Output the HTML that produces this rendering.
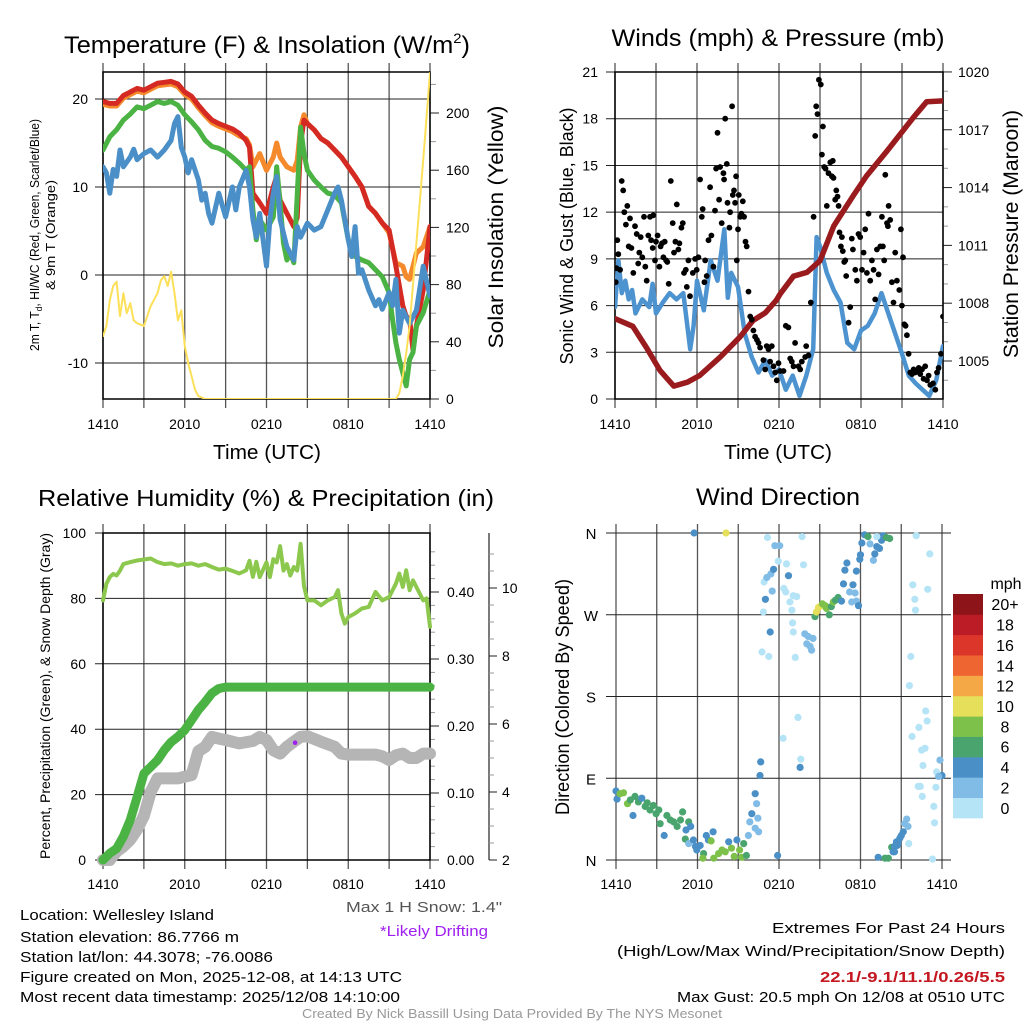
<!DOCTYPE html>
<html><head><meta charset="utf-8"><title>Mesonet Meteogram</title>
<style>
html,body{margin:0;padding:0;background:#fff;}
svg{display:block;font-family:"Liberation Sans",Arial,sans-serif;}
</style></head>
<body>
<svg id="chart" width="1024" height="1024" viewBox="0 0 1024 1024" xmlns="http://www.w3.org/2000/svg">
<rect x="0" y="0" width="1024" height="1024" fill="#fff"/>
<defs>
<clipPath id="c1"><rect x="103" y="72" width="327" height="327"/></clipPath>
<clipPath id="c2"><rect x="615" y="72" width="328" height="327"/></clipPath>
<clipPath id="c3"><rect x="96" y="520" width="342" height="350"/></clipPath>
<clipPath id="c4"><rect x="606" y="525" width="345" height="342"/></clipPath>
</defs>
<!-- titles -->
<text x="267" y="53" font-size="24" text-anchor="middle" textLength="406" lengthAdjust="spacingAndGlyphs">Temperature (F) &amp; Insolation (W/m<tspan font-size="14" dy="-10">2</tspan><tspan dy="10">)</tspan></text>
<text x="778" y="46" font-size="24" text-anchor="middle" textLength="333" lengthAdjust="spacingAndGlyphs">Winds (mph) &amp; Pressure (mb)</text>
<text x="266" y="506" font-size="23" text-anchor="middle" textLength="456" lengthAdjust="spacingAndGlyphs">Relative Humidity (%) &amp; Precipitation (in)</text>
<text x="778" y="505" font-size="24" text-anchor="middle" textLength="164" lengthAdjust="spacingAndGlyphs">Wind Direction</text>
<!-- axis titles -->
<text x="267" y="459" font-size="20" text-anchor="middle" textLength="108" lengthAdjust="spacingAndGlyphs">Time (UTC)</text>
<text x="778" y="459" font-size="20" text-anchor="middle" textLength="108" lengthAdjust="spacingAndGlyphs">Time (UTC)</text>
<text transform="translate(39,235) rotate(-90)" font-size="13" text-anchor="middle" textLength="232" lengthAdjust="spacingAndGlyphs">2m T, T<tspan font-size="9" dy="3">d</tspan><tspan dy="-3">, HI/WC (Red, Green, Scarlet/Blue)</tspan></text>
<text transform="translate(55,235) rotate(-90)" font-size="13" text-anchor="middle" textLength="110" lengthAdjust="spacingAndGlyphs">&amp; 9m T (Orange)</text>
<text transform="translate(503,227) rotate(-90)" font-size="21" text-anchor="middle" textLength="243" lengthAdjust="spacingAndGlyphs">Solar Insolation (Yellow)</text>
<text transform="translate(573,236) rotate(-90)" font-size="18" text-anchor="middle" textLength="257" lengthAdjust="spacingAndGlyphs">Sonic Wind &amp; Gust (Blue, Black)</text>
<text transform="translate(1018,234) rotate(-90)" font-size="21" text-anchor="middle" textLength="248" lengthAdjust="spacingAndGlyphs">Station Pressure (Maroon)</text>
<text transform="translate(50,696) rotate(-90)" font-size="14" text-anchor="middle" textLength="326" lengthAdjust="spacingAndGlyphs">Percent, Precipitation (Green), &amp; Snow Depth (Gray)</text>
<text transform="translate(569,697) rotate(-90)" font-size="19" text-anchor="middle" textLength="236" lengthAdjust="spacingAndGlyphs">Direction (Colored By Speed)</text>
<!-- info texts -->
<text x="424" y="912" font-size="15" fill="#555" text-anchor="middle" textLength="156" lengthAdjust="spacingAndGlyphs">Max 1 H Snow: 1.4"</text>
<text x="434" y="936" font-size="15" fill="#a020f0" text-anchor="middle" textLength="108" lengthAdjust="spacingAndGlyphs">*Likely Drifting</text>
<g font-size="15">
<text x="20" y="920" textLength="194" lengthAdjust="spacingAndGlyphs">Location: Wellesley Island</text>
<text x="20" y="942" textLength="219" lengthAdjust="spacingAndGlyphs">Station elevation: 86.7766 m</text>
<text x="20" y="962" textLength="253" lengthAdjust="spacingAndGlyphs">Station lat/lon: 44.3078; -76.0086</text>
<text x="20" y="982" textLength="382" lengthAdjust="spacingAndGlyphs">Figure created on Mon, 2025-12-08, at 14:13 UTC</text>
<text x="20" y="1002" textLength="380" lengthAdjust="spacingAndGlyphs">Most recent data timestamp: 2025/12/08 14:10:00</text>
</g>
<g font-size="15" text-anchor="end">
<text x="1005" y="933" textLength="233" lengthAdjust="spacingAndGlyphs">Extremes For Past 24 Hours</text>
<text x="1005" y="956" textLength="388" lengthAdjust="spacingAndGlyphs">(High/Low/Max Wind/Precipitation/Snow Depth)</text>
<text x="1005" y="982" font-weight="bold" fill="#c4171f" textLength="185" lengthAdjust="spacingAndGlyphs">22.1/-9.1/11.1/0.26/5.5</text>
<text x="1005" y="1002" textLength="328" lengthAdjust="spacingAndGlyphs">Max Gust: 20.5 mph On 12/08 at 0510 UTC</text>
</g>
<text x="512" y="1018" font-size="13" fill="#999" text-anchor="middle" textLength="420" lengthAdjust="spacingAndGlyphs">Created By Nick Bassill Using Data Provided By The NYS Mesonet</text>
<text x="1006" y="589" font-size="16" text-anchor="middle">mph</text>
</svg>
<script>
// ---------- data ----------
const timeTickHours=[0,6,12,18,24];
const timeTickLabels=['1410','2010','0210','0810','1410'];
const gridHours=[0,3,6,9,12,15,18,21,24];
const p1TempTicks=[-10,0,10,20];
const p1SolarTicks=[0,40,80,120,160,200];
const p2WindTicks=[0,3,6,9,12,15,18,21];
const p2PresTicks=[1005,1008,1011,1014,1017,1020];
const p3PctTicks=[0,20,40,60,80,100];
const p3PrecTicks=[0,0.1,0.2,0.3,0.4];
const p3SnowTicks=[2,4,6,8,10];
const dirTicks=[0,90,180,270,360];
const dirTickLabels=['N','E','S','W','N'];
const speedBinLabels=['0','2','4','6','8','10','12','14','16','18','20+'];

const tempT=[0,0.5,1,1.5,2,2.5,3,3.5,4,4.5,5,5.5,6,6.5,7,7.5,8,8.5,9,9.5,10,10.5,10.75,11,11.5,12,12.5,12.75,13,13.5,14,14.25,14.5,14.75,15,15.5,16,16.5,17,17.5,18,18.5,19,19.5,20,20.5,21,21.5,22,22.25,22.5,22.75,23,23.5,24];
const tempV=[19.7,19.5,19.5,20.4,20.8,21.2,21,21.4,21.8,21.9,22,21.7,20.8,20.3,19.3,18.4,17.6,17.2,16.9,16.6,16.1,15.3,14.5,9.3,8.2,7,10,11.2,8.5,7,5.5,6.5,15,17.6,17.2,16.5,15.5,15,14.2,13.4,12.3,11.2,10,7.8,7,5.9,5.1,1,-3.5,-4.7,-5,-8.5,-5.8,-1.7,5.5];
const temp9mV=[19.4,19.2,19.2,20.1,20.5,20.9,20.7,21.1,21.5,21.6,21.7,21.4,20.5,20,19,18.1,17.3,16.9,16.6,16.3,15.8,15.5,14.8,12.3,13.8,11.9,13.4,15,13.4,12.3,11.9,13,16.8,18.2,17.2,16.5,15.5,15,14.2,13.4,12.3,11.2,10,7.8,7,5.9,4.8,1.4,1,-0.2,-0.5,1,2.5,3.2,5.5];
const dewT=[0,0.5,1,1.5,2,2.5,3,3.5,4,4.5,5,5.5,6,6.5,7,7.5,8,8.5,9,9.5,10,10.5,10.75,11,11.25,11.5,12,12.5,12.75,13,13.25,13.5,13.75,14,14.25,14.5,14.75,15,15.5,16,16.5,17,17.5,18,18.5,19,19.5,20,20.5,21,21.25,21.5,21.75,22,22.25,22.5,22.75,23,23.5,24];
const dewV=[14.2,15.7,16.5,17.6,18.3,19.1,18.9,19.3,19.7,19.5,19.7,19.3,18.2,17.4,16.5,15.3,14.6,14.4,14,13.4,12.7,11.9,12.3,7.4,4,6.3,5.1,6.6,12.3,8.2,3.6,1.7,2.5,1.4,9,16.8,13.8,11.9,10.8,10,9.3,9.1,8.2,4,2.1,1.7,1.4,0.6,-0.2,-2,-5,-7.7,-9.6,-11.1,-12.6,-9.6,-8.8,-5.8,-4.3,-1.7];
const chillT=[0,0.25,0.5,0.75,1,1.25,1.5,2,2.25,2.5,3,3.5,4,4.5,5,5.25,5.5,5.75,6,6.25,6.5,7,7.25,7.5,7.75,8,8.5,9,9.5,9.75,10,10.5,10.75,11,11.25,11.5,12,12.25,12.5,12.75,13,13.5,14,14.25,14.5,15,15.5,16,16.5,17,17.25,17.5,18,18.25,18.5,18.75,19,19.5,20,20.25,20.5,21,21.25,21.5,21.75,22,22.5,23,23.5,24];
const chillV=[12.3,11.6,9.3,12,11.2,14.2,12.3,13.4,14.3,13.1,13.8,14.2,13.4,14.2,15.3,17.2,18,14.5,13.4,11.6,13.1,10.8,8.5,9.3,7,5.9,9.3,6.6,10,7.4,10,11.9,10,6.3,4.3,7,1,6.3,9.3,11.2,6.3,3.2,1.7,5.5,4.3,5.9,5.1,5.5,7.4,9.3,10,8.5,4,2.1,5.5,0.2,0.6,-1.7,-3.5,-2.8,-3.9,-2,-3.5,-0.5,-6.6,-4,-5.5,-4,1,-2.4];
const solarT=[0,0.25,0.5,0.75,1,1.25,1.5,1.75,2,2.25,2.5,3,3.5,4,4.25,4.5,4.75,5,5.25,5.5,5.75,6,6.25,6.5,6.75,7,7.5,21.5,21.75,22,22.25,22.5,23,23.5,24];
const solarV=[44,51,69,79,82,58,74,60,67,55,53,51,65,74,83,86,79,89,74,55,62,37,25,16,6.5,2,0,0,4,16,32,51,109,167,228];

const presT=[0,1.3,2.3,3.3,4.3,5.3,6.2,7.7,9.15,10.1,11,11.8,12.1,13.06,14.04,15,16,17.45,18.4,19.9,21.85,22.8,24];
const presV=[1007.2,1006.8,1005.7,1004.5,1003.7,1003.9,1004.25,1005.2,1006.25,1007.1,1007.5,1008.15,1008.5,1009.4,1009.6,1010.2,1012.0,1013.6,1014.6,1015.9,1017.65,1018.45,1018.5];
const windT=[0,0.25,0.5,0.75,1,1.25,1.5,2,2.5,2.75,3,3.5,4,4.5,5,5.5,5.75,6,6.5,7,7.5,8,8.25,8.5,9,9.5,10,10.5,11,11.5,12,12.5,13,13.5,14,14.5,14.75,15,15.5,16,16.5,17,17.5,18,18.5,19,19.5,20,20.5,21,21.5,22,22.5,23,23.5,24];
const windV=[5.9,8.9,6.8,7.6,6.4,7,5.5,6.4,5.9,7.4,5.5,6.2,6.8,6.4,6.8,3.2,4.7,7.6,5.7,8.9,7.6,10.9,6.5,8.1,7.2,4.2,2.7,1.7,2.5,1.5,1.9,0.6,1.5,0.2,1.5,3.2,10.4,9.8,8.1,7,6.2,3.6,3.2,4.4,4.7,5.5,6.8,5.5,4.2,2.9,1.5,1,0.6,0.2,1.2,3.4];
const gustT=[0.05,0.1,0.17,0.24,0.37,0.49,0.6,0.68,0.8,0.9,1,1.1,1.2,1.34,1.46,1.59,1.7,1.78,1.88,2,2.12,2.22,2.32,2.44,2.56,2.64,2.76,2.8,2.93,3,3.12,3.25,3.34,3.44,3.54,3.64,3.74,3.83,3.93,4.08,4.22,4.32,4.42,4.52,4.64,4.71,4.86,4.96,5.05,5.18,5.25,5.37,5.49,5.69,5.86,5.98,6.1,6.23,6.35,6.42,6.54,6.6,6.71,6.84,6.96,7.05,7.2,7.32,7.4,7.5,7.62,7.69,7.81,7.93,7.98,8.06,8.18,8.23,8.37,8.42,8.57,8.62,8.71,8.79,8.86,8.91,9,9.06,9.16,9.25,9.35,9.45,9.55,9.64,9.77,9.89,10.01,10.13,10.25,10.38,10.5,10.62,10.86,10.99,11.1,11.23,11.35,11.47,11.6,11.72,11.84,11.96,12.08,12.33,12.5,12.69,12.82,12.94,13.06,13.18,13.43,13.55,13.67,13.92,13.99,14.16,14.33,14.53,14.65,14.72,14.82,14.92,15.06,15.14,15.21,15.31,15.4,15.5,15.62,15.75,15.87,15.94,15.99,16.11,16.19,16.28,16.36,16.43,16.53,16.6,16.67,16.77,16.85,16.92,17.09,17.21,17.33,17.41,17.58,17.7,17.82,17.94,18.07,18.19,18.31,18.43,18.55,18.67,18.8,18.92,19.04,19.16,19.29,19.41,19.53,19.6,19.7,19.78,19.9,19.97,20.02,20.14,20.26,20.38,20.5,20.63,20.8,20.92,20.99,21.07,21.17,21.26,21.36,21.48,21.6,21.73,21.85,21.97,22.1,22.22,22.34,22.46,22.58,22.7,22.83,22.95,23.07,23.27,23.44,23.56,23.68,23.85,24];
const gustV=[7.5,8.4,10.2,9.3,8.3,14,13.4,12,11.2,12.4,9.8,11.6,9.7,8.1,11.1,10.6,8.7,9.4,10.4,9.1,11.7,8.5,7.6,10.5,11.7,10.2,9.7,11.8,8.9,10.1,10.5,8.5,9.8,10,9.1,10.1,8.9,8.8,7.4,14,11.3,9.4,10.1,12.5,9.6,10,11,11.3,8.1,8.3,7.2,8.9,6.6,8.1,9,8.3,9.1,14.1,11.7,12.2,7.5,8.9,7.9,10.2,13.6,10.5,8.5,12.1,14.8,17.1,12.8,14.9,11.3,14.5,14.1,18,15.1,12.6,11,12,18.8,13.1,13.4,12.6,14.3,8.9,10.9,13.1,11.7,11.9,12.7,11.7,10.1,9.8,6.9,5.3,5.1,4.4,4,3.8,3.6,3.3,2.5,1.9,3.4,3.2,2.4,3.4,2.1,1.7,1.2,2.3,1.8,1.8,4.7,4.6,2.6,2.4,2.1,3.6,2.1,1.9,2.4,2.7,3.4,2.8,6.2,11.7,16.9,18.8,18.3,20.5,20.2,15.7,17.5,14.9,14.8,12.4,14.5,15.2,14.3,15.3,14.2,12.8,13.4,13,12.4,10.7,9.8,10.4,9.5,8.8,8.9,7.9,4.9,5.9,10.3,9.6,8.3,7.6,10.6,10.4,8.3,9.4,10.9,8.1,11.9,7.6,8.9,8.3,6.4,9.6,8,9.8,11.7,9.8,8.9,14.4,11.3,11.1,12.4,11.5,7.5,6.2,9.4,7.6,7,10.9,6,9.1,4.8,4.7,4.1,2.9,1.7,1.6,1.9,1.7,1.8,2,1.6,1.9,1.3,2.1,1.2,1.5,0.9,1,0.6,1.7,2,2.9,5.3];

const rhT=[0,0.25,0.5,0.75,1,1.25,1.5,2,2.5,3,3.5,4,4.5,5,5.5,6,6.5,7,7.5,8,8.5,9,9.5,10,10.5,10.75,11,11.25,11.5,12,12.25,12.5,12.75,13,13.25,13.5,13.75,14,14.25,14.5,14.75,15,15.5,16,16.5,17,17.25,17.5,17.75,18,18.5,19,19.5,20,20.5,21,21.5,21.75,22,22.25,22.5,22.75,23,23.5,23.75,24];
const rhV=[79.4,84.5,86.5,87.5,87,88.5,90.5,91.1,91.6,91.9,92.2,91.1,90.5,90.7,90,90.5,90.7,90,90.5,89.6,88.8,89.1,88.4,87.6,88.6,91.5,86.6,91.2,86.5,91,86.5,92,91,96,88.5,90.5,87,89.6,88.5,96.7,83.7,79.4,79.4,77.9,79.4,80.4,82.5,75.4,72.3,74.3,75.4,76.9,77.4,82,79.4,80.4,84.5,87.6,83.5,88.6,82.5,85.5,83.5,79.4,80,71.3];
const precT=[0,0.5,1,1.5,2,2.5,3,3.5,4,4.5,5,5.5,6,6.5,7,7.5,8,8.5,9,24];
const precV=[0,0.01,0.017,0.035,0.06,0.094,0.129,0.139,0.149,0.164,0.176,0.184,0.194,0.209,0.224,0.236,0.249,0.256,0.258,0.258];
const snowT=[0,0.5,1,1.5,2,2.5,3,3.5,4,5,5.5,6,6.5,7,7.5,8,8.5,9,10,11,11.5,12,12.5,13,13.5,14,14.5,15,16,17,17.5,18,20,20.5,21,21.5,22,22.5,23,23.5,24];
const snowV=[2,2,2.25,2.4,2.6,2.9,3.3,4.0,4.4,4.4,4.4,4.45,4.5,5.2,5.33,5.62,5.57,5.53,5.43,5.5,5.62,5.53,5.23,5.13,5.33,5.48,5.62,5.64,5.48,5.33,5.13,5.1,5.1,5.05,4.94,5.08,5.13,5,5,5.13,5.13];
const driftT=[14.1];
const driftV=[5.45];

const dirT=[0,0.07,0.3,0.55,0.85,1.05,1.25,1.4,1.65,1.9,2.15,2.3,2.5,2.75,2.95,3.15,3.25,3.55,3.75,4,4.25,4.5,4.75,4.9,5.15,5.35,5.5,5.1,5.35,5.7,5.85,5.95,6.2,6.45,6.65,6.8,7,7.15,6.4,7.2,7.55,7.8,8.05,8.3,8.5,8.7,8.9,9.1,9.25,9.4,9.6,5.75,8.1,9.75,9.85,10,10.25,10.35,10.45,10.5,10.25,10.6,10.65,11.35,11,10.85,10.75,11.25,10.9,11.1,11.4,11.6,11.5,11.95,11.7,12.05,11.15,11.9,12.3,12.35,12.5,12.7,12.55,12.8,13.05,13.3,12.95,13,13.05,13.2,13.4,13.6,13.55,13.7,13.8,13.9,14.05,14.15,14.3,14.4,14.5,14.65,14.75,14.9,15,15.2,15.4,15.5,15.7,15.85,16,16.15,16.35,16.6,16.75,16.85,17,17.2,17.35,17.45,17.6,17.7,17.85,17.7,17.95,18,18.1,18.3,18.55,18.7,18.95,19.05,19.2,19.4,19.55,19.65,19.9,20.15,19.2,22.1,23.1,22.95,21.85,22,22.05,21.7,21.6,22.8,22.9,22.3,21.8,22.5,22.75,23.85,22.6,23.6,24,23.75,22.25,22.4,23.55,22.55,23.4,23.45,23.3,19.3,19.8,20.05,20.3,20.4,20.5,20.65,20.75,20.9,21,21.15,21.25,21.4,21.5,21.55,20.5,20.7];
const dirD=[76,67,73,74,62,66,49,70,64,68,59,63,55,60,51,55,40,27,49,44,42,37,44,53,33,42,37,23,18,22,15,11,16,7,27,22,21,31,2,2,7,11,9,20,13,4,22,11,3,18,5,360,360,27,42,51,35,62,46,31,73,93,108,251,287,273,229,224,306,311,315,320,296,329,346,346,355,5,134,299,295,313,326,284,291,290,275,261,251,223,157,111,102,356,325,249,238,246,235,231,244,268,273,278,279,282,280,277,270,279,284,286,289,285,304,319,327,295,284,303,294,285,280,318,331,336,349,358,356,348,330,337,345,343,352,357,355,354,356,357,337,298,303,287,275,224,192,164,153,146,136,121,123,110,104,97,93,92,81,81,80,70,59,41,1,3,2,2,14,9,15,20,18,24,27,31,40,45,37,18,9,16];
const dirS=[5,5,9,9,9,7,5,7,7,5,7,7,7,7,7,7,7,5,7,7,7,7,7,7,5,7,5,7,3,5,5,5,5,7,5,5,9,5,9,9,9,9,9,5,9,9,5,9,9,7,7,5,11,3,3,5,3,3,3,3,5,5,5,5,5,1,1,1,1,3,3,5,3,1,3,3,1,5,1,1,1,5,1,1,1,1,1,1,1,1,1,1,5,1,1,3,3,3,3,3,3,7,11,11,11,9,9,9,7,7,9,7,7,5,5,5,5,3,3,5,3,3,5,5,5,5,5,5,7,3,3,5,5,5,5,5,7,7,1,1,1,1,1,1,1,1,1,1,1,1,1,1,1,3,1,1,5,3,1,1,1,1,1,1,1,5,7,7,7,5,5,5,5,5,5,5,3,3,3,1,5,5];
const speedColors=['#b6e4f7','#80bce5','#4a8fc6','#49a56d','#7dc14b','#e6df5a','#f5a946','#ef6531','#dc362b','#bb1c26','#8d1519'];

// ---------- axes ----------
const x1=t=>103+t*327/24, yT=v=>275-8.8*v, yS=v=>399-1.43*v;
const x2=t=>615+t*328/24, yW=v=>399-15.57*v, yP=v=>361-(v-1005)*19.27;
const x3=t=>103+t*327/24, yR=v=>860-3.27*v, yPr=v=>860-670*v, ySn=v=>860-(v-2)*34;
const x4=t=>616+t*326/24, yD=v=>860-v*327/360;

const NS='http://www.w3.org/2000/svg';
const svg=document.getElementById('chart');
function mk(tag,parent){const e=document.createElementNS(NS,tag);(parent||svg).appendChild(e);return e;}
function attrs(e,o){for(const k in o)e.setAttribute(k,o[k]);return e;}
function pathD(ts,vs,xf,yf){let d='';const n=Math.min(ts.length,vs.length);for(let i=0;i<n;i++){d+=(i?'L':'M')+xf(ts[i]).toFixed(1)+','+yf(vs[i]).toFixed(1);}return d;}
function ln(g,xa,ya,xb,yb,col,w,name){const l=mk('line',g);attrs(l,{x1:xa,y1:ya,x2:xb,y2:yb,stroke:col,'stroke-width':w});


return l;}
function txt(g,x,y,s,anchor,size,name){const t=mk('text',g);attrs(t,{x:x,y:y,'text-anchor':anchor,'font-size':size});t.textContent=s;


return t;}
function series(g,ts,vs,xf,yf,col,w,name){const p=mk('path',g);attrs(p,{d:pathD(ts,vs,xf,yf),fill:'none',stroke:col,'stroke-width':w,'stroke-linejoin':'round','stroke-linecap':'round'});


return p;}
function group(name,clip){const g=mk('g');if(clip)g.setAttribute('clip-path','url(#'+clip+')');


return g;}

function timeGrid(g,xf,top,bot,ext,labelY){
  gridHours.forEach(h=>{ln(g,xf(h),top-ext,xf(h),bot+ext,'#555',1.3,'time-grid-line');});
  timeTickHours.forEach((h,i)=>{txt(g,xf(h),labelY,timeTickLabels[i],'middle',14,'time-tick-label');});
}

// ---------- panel 1 ----------
const g1=group('temperature-panel');
timeGrid(g1,x1,72,399,9,429);
p1TempTicks.forEach(v=>{ln(g1,95,yT(v),430,yT(v),'#222',1,'temp-grid-line');txt(g1,88,yT(v)+5,String(v),'end',14,'temp-tick-label');});
p1SolarTicks.forEach(v=>{ln(g1,430,yS(v),439,yS(v),'#222',1,'solar-tick');txt(g1,446,yS(v)+5,String(v),'start',14,'solar-tick-label');});
for(let v=20;v<=220;v+=40){ln(g1,430,yS(v),436,yS(v),'#999',1,'solar-minor-tick');}
const d1=group('temperature-series','c1');
series(d1,tempT,temp9mV,x1,yT,'#f58a2c',5,'temp-9m-line');
series(d1,tempT,tempV,x1,yT,'#d42a23',5,'temp-2m-line');
series(d1,dewT,dewV,x1,yT,'#4bb343',5,'dewpoint-line');
series(d1,chillT,chillV,x1,yT,'#4a8fc8',5,'windchill-line');
series(d1,solarT,solarV,x1,yS,'#fde05a',2,'solar-line');
const f1=mk('rect',g1);attrs(f1,{x:103,y:72,width:327,height:327,fill:'none',stroke:'#000','stroke-width':1.5});



// ---------- panel 2 ----------
const g2=group('winds-panel');
timeGrid(g2,x2,72,399,9,429);
p2WindTicks.forEach(v=>{ln(g2,606,yW(v),943,yW(v),'#222',1,'wind-grid-line');txt(g2,598,yW(v)+5,String(v),'end',14,'wind-tick-label');});
p2PresTicks.forEach(v=>{ln(g2,943,yP(v),952,yP(v),'#222',1,'pressure-tick');txt(g2,958,yP(v)+5,String(v),'start',14,'pressure-tick-label');});
for(let v=1004;v<=1019;v+=1){if((v-1005)%3)ln(g2,943,yP(v),948,yP(v),'#999',1,'pressure-minor-tick');}
const d2=group('winds-series','c2');
series(d2,windT,windV,x2,yW,'#4c93d0',4.5,'sonic-wind-line');
series(d2,presT,presV,x2,yP,'#9a1b1e',5.5,'pressure-line');
const n2=Math.min(gustT.length,gustV.length);
for(let i=0;i<n2;i++){const c=mk('circle',d2);attrs(c,{cx:x2(gustT[i]).toFixed(1),cy:yW(gustV[i]).toFixed(1),r:2.9,fill:'#000'});

}
const f2=mk('rect',g2);attrs(f2,{x:615,y:72,width:328,height:327,fill:'none',stroke:'#000','stroke-width':1.5});



// ---------- panel 3 ----------
const g3=group('humidity-panel');
timeGrid(g3,x3,533,860,9,889);
p3PctTicks.forEach(v=>{ln(g3,95,yR(v),430,yR(v),'#222',1,'percent-grid-line');txt(g3,86,yR(v)+5,String(v),'end',14,'percent-tick-label');});
p3PrecTicks.forEach(v=>{ln(g3,430,yPr(v),439,yPr(v),'#222',1,'precip-tick');txt(g3,447,yPr(v)+5,v.toFixed(2),'start',14,'precip-tick-label');});
for(let v=0.02;v<0.48;v+=0.02){if(Math.abs(v*10-Math.round(v*10))>0.01)ln(g3,430,yPr(v),435,yPr(v),'#999',1,'precip-minor-tick');}
ln(g3,489,533,489,860,'#222',1.2,'snow-axis-line');
p3SnowTicks.forEach(v=>{ln(g3,489,ySn(v),497,ySn(v),'#222',1,'snow-tick');txt(g3,502,ySn(v)+5,String(v),'start',14,'snow-tick-label');});
for(let v=2.5;v<11.5;v+=0.5){if(v%2)ln(g3,489,ySn(v),494,ySn(v),'#999',1,'snow-minor-tick');}
const d3=group('humidity-series','c3');
series(d3,snowT,snowV,x3,ySn,'#b5b5b5',12,'snow-depth-line');
series(d3,precT,precV,x3,yPr,'#4bb343',9,'precipitation-line');
series(d3,rhT,rhV,x3,yR,'#8cc84e',4,'humidity-line');
const nd=Math.min(driftT.length,driftV.length);
for(let i=0;i<nd;i++){const c=mk('circle',d3);attrs(c,{cx:x3(driftT[i]),cy:ySn(driftV[i]),r:2.3,fill:'#a020f0'});

}
const f3=mk('rect',g3);attrs(f3,{x:103,y:533,width:327,height:327,fill:'none',stroke:'#000','stroke-width':1.5});



// ---------- panel 4 ----------
const g4=group('wind-direction-panel');
timeGrid(g4,x4,533,860,9,889);
dirTicks.forEach((v,i)=>{ln(g4,606,yD(v),951,yD(v),'#222',1,'direction-grid-line');txt(g4,591,yD(v)+6,dirTickLabels[i],'middle',15,'direction-tick-label');});
const d4=group('direction-points','c4');
const n4=Math.min(dirT.length,dirD.length,dirS.length);
for(let i=0;i<n4;i++){const c=mk('circle',d4);const bin=Math.min(10,Math.floor(dirS[i]/2));
attrs(c,{cx:x4(dirT[i]).toFixed(1),cy:yD(dirD[i]).toFixed(1),r:3.6,fill:speedColors[bin]});

}
// colorbar
const cb=group('speed-colorbar');
const bh=(818-594)/11;
speedColors.forEach((col,i)=>{const r=mk('rect',cb);const y=818-(i+1)*bh;attrs(r,{x:953,y:y.toFixed(2),width:30,height:(bh+0.4).toFixed(2),fill:col});


txt(cb,1005,y+bh/2+6,speedBinLabels[i],'middle',16,'colorbar-label');});
</script>
</body></html>
